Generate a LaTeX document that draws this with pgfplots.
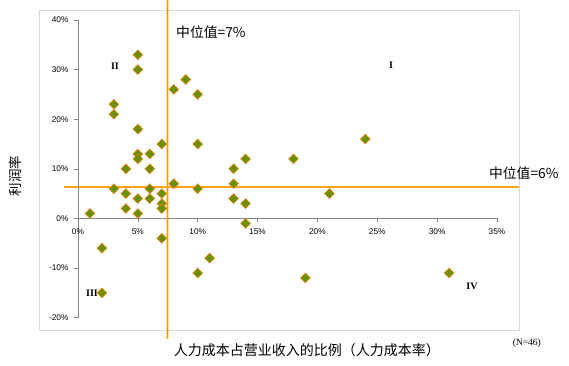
\documentclass[border=0pt]{standalone}
\usepackage{fontspec}
\setmainfont{Liberation Sans}
\newfontfamily\cjk{Noto Sans CJK SC}
\newfontfamily\serifr{Liberation Serif}
\usepackage{pgfplots}
\pgfplotsset{compat=1.18}
\definecolor{mkfill}{RGB}{104,145,10}
\definecolor{mkedge}{RGB}{230,130,10}
\definecolor{medline}{RGB}{255,153,0}
\definecolor{axgray}{RGB}{134,134,134}
\definecolor{brd}{RGB}{217,217,217}
\begin{document}
\begin{tikzpicture}[x=1pt,y=1pt]
\begin{axis}[
  scale only axis,
  width=419pt, height=297.7pt,
  xmin=0, xmax=35, ymin=-20, ymax=40,
  axis lines=middle,
  axis line style={-, axgray, line width=0.6pt},
  hide obscured x ticks=false, hide obscured y ticks=false,
  xtick={0,5,10,15,20,25,30,35},
  xticklabels={0\%,5\%,10\%,15\%,20\%,25\%,30\%,35\%},
  ytick={-20,-10,0,10,20,30,40},
  yticklabels={-20\%,-10\%,0\%,10\%,20\%,30\%,40\%},
  tick align=outside,
  major tick length=4pt,
  tick style={axgray, line width=0.6pt},
  ticklabel style={font=\fontsize{8.3}{9}\selectfont, text=black},
  xticklabel style={yshift=-3pt},
  yticklabel style={xshift=-2pt},
  clip=false,
  /pgf/number format/assume math mode=true,
]
% chart border
\draw[brd, line width=0.8pt] (axis cs:-3.26,42.02) rectangle (axis cs:36.84,-22.47);
\addplot[only marks, mark=square*, mark size=3.4pt,
  mark options={rotate=45, fill=mkfill, draw=mkedge, line width=0.7pt}]
 coordinates {
 (5,33) (5,30) (3,23) (3,21) (5,18) (8,26) (9,28) (10,25)
 (7,15) (10,15) (5,13) (6,13) (5,12) (4,10) (6,10) (13,10)
 (14,12) (18,12) (24,16) (3,6) (4,5) (5,4) (6,6) (6,4)
 (7,5) (7,3) (7,2) (4,2) (1,1) (5,1) (8,7) (10,6)
 (13,7) (13,4) (14,3) (14,-1) (2,-6) (7,-4) (10,-11) (11,-8)
 (2,-15) (21,5) (19,-12) (31,-11)
 };
% median lines
\addplot[draw=medline, line width=1.8pt, no marks, opacity=0.9] coordinates {(-1.17,6.29) (36.84,6.29)};
\addplot[draw=medline, line width=1.8pt, no marks] coordinates {(7.47,44.03) (7.4701,-24.28)};
% texts
\node[anchor=west, inner sep=0pt, font=\cjk\fontsize{13.8}{14}\selectfont] at (axis cs:8.19,37.6) {中位值=7\%};
\node[anchor=west, inner sep=0pt, font=\cjk\fontsize{13.8}{14}\selectfont] at (axis cs:34.33,9.17) {中位值=6\%};
\node[inner sep=0pt, font=\cjk\fontsize{14}{15}\selectfont] at (axis cs:19.13,-26.5) {人力成本占营业收入的比例（人力成本率）};
\node[inner sep=0pt, rotate=90, font=\cjk\fontsize{13.5}{14}\selectfont] at (axis cs:-5.26,8.57) {利润率};
\node[inner sep=0pt, font=\serifr\fontsize{9.5}{10}\selectfont] at (axis cs:37.5,-25.09) {(N=46)};
\node[inner sep=0pt, font=\serifr\bfseries\fontsize{10}{11}\selectfont] at (axis cs:3.09,30.73) {II};
\node[inner sep=0pt, font=\serifr\bfseries\fontsize{10}{11}\selectfont] at (axis cs:26.15,30.93) {I};
\node[inner sep=0pt, font=\serifr\bfseries\fontsize{10}{11}\selectfont] at (axis cs:1.17,-15.01) {III};
\node[inner sep=0pt, font=\serifr\bfseries\fontsize{10}{11}\selectfont] at (axis cs:32.91,-13.6) {IV};
\coordinate (bbtl) at (axis cs:-6.516,44.03);
\coordinate (bbbr) at (axis cs:41.02,-29.73);
\end{axis}
\pgfresetboundingbox
\path[use as bounding box] (bbtl) rectangle (bbbr);
\end{tikzpicture}
\end{document}
